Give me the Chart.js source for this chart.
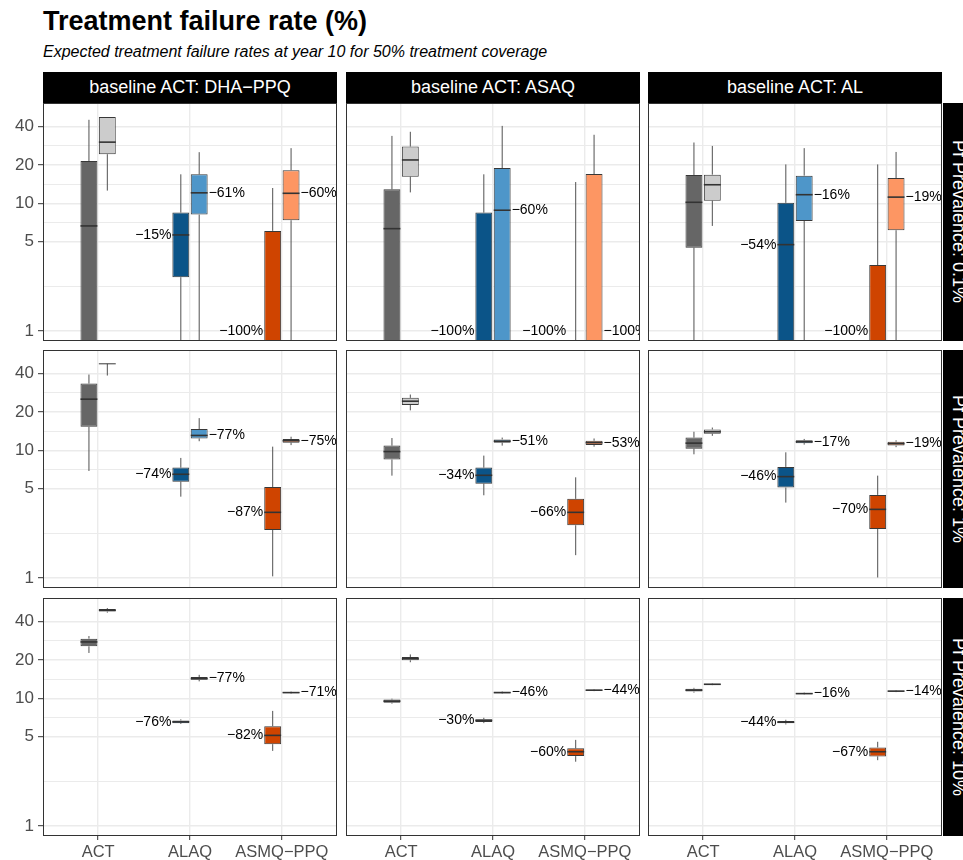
<!DOCTYPE html>
<html>
<head>
<meta charset="utf-8">
<title>Treatment failure rate (%)</title>
<script src="https://cdn.jsdelivr.net/npm/chart.js@4/dist/chart.umd.min.js"></script>
<style>
  html, body { margin: 0; padding: 0; background: #fff; }
  body {
    width: 963px; height: 860px; overflow: hidden; position: relative;
    font-family: 'Liberation Sans', Arial, Helvetica, sans-serif;
  }
  .title {
    position: absolute; left: 43px; top: 8px;
    font-size: 27px; line-height: 27px; font-weight: bold; color: #000; white-space: nowrap;
  }
  .subtitle {
    position: absolute; left: 43px; top: 44px;
    font-size: 16px; line-height: 16px; font-style: italic; color: #000; white-space: nowrap;
  }
  .strip-top {
    position: absolute; top: 72px; width: 294px; height: 31px;
    background: #000; color: #fff; font-size: 18px;
    display: flex; align-items: center; justify-content: center; white-space: nowrap;
  }
  .strip-right {
    position: absolute; left: 943px; width: 31px; height: 238px;
    background: #000; color: #fff; font-size: 18px;
    writing-mode: vertical-rl;
    display: flex; align-items: center; justify-content: center; white-space: nowrap;
  }
  canvas { position: absolute; }
</style>
</head>
<body>
<div class="title">Treatment failure rate (%)</div>
<div class="subtitle">Expected treatment failure rates at year 10 for 50% treatment coverage</div>
<script>
// ---- categories and facet levels ----
const categories = ['ACT', 'ALAQ', 'ASMQ−PPQ'];
const baselineActs = ['DHA−PPQ', 'ASAQ', 'AL'];
const prevalenceLevels = ['0.1%', '1%', '10%'];
const yTickValues = [1, 5, 10, 20, 40];
const yLimits = [0.835, 61.2];

// ---- box summaries: [lower whisker, Q1, median, Q3, upper whisker] ----
// one entry per baseline ACT (DHA−PPQ, ASAQ, AL), each with one box per category.
// null marks a statistic that lies above the top of the axis.
const armA_prev01 = [
  [[0.3, 0.5, 6.66, 21.5, 45.2], [0.3, 2.64, 5.66, 8.47, 16.9], [0, 0, 0, 6.09, 13.2]],
  [[0.3, 0.5, 6.34, 12.9, 33.8], [0, 0, 0, 8.47, 16.9], [0, 0, 0, 0.6, 14.7]],
  [[0.3, 4.5, 10.2, 16.7, 30.0], [0.3, 0.5, 4.75, 10.1, 20.2], [0, 0, 0, 3.29, 20.2]]
];
const armB_prev01 = [
  [[12.6, 24.3, 30.2, 47.5, 47.5], [0.3, 8.17, 12.1, 16.9, 25.2], [0.3, 7.38, 12.0, 18.2, 27.1]],
  [[12.2, 16.2, 21.9, 27.9, 36.4], [0.3, 0.5, 8.84, 18.9, 40.5], [0, 0, 0, 17.0, 34.5]],
  [[6.66, 10.5, 14.0, 16.8, 28.2], [0.3, 7.29, 11.7, 16.5, 27.1], [0.3, 6.16, 11.2, 15.8, 25.3]]
];
const armA_prev1 = [
  [[6.9, 15.3, 25.2, 33.4, 39.3], [4.34, 5.69, 6.5, 7.33, 8.73], [1.03, 2.38, 3.27, 5.17, 10.7]],
  [[6.34, 8.48, 9.79, 10.9, 12.5], [4.45, 5.49, 6.38, 7.33, 9.1], [1.51, 2.59, 3.27, 4.17, 6.15]],
  [[9.32, 10.3, 11.4, 12.6, 14.0], [3.9, 5.11, 6.23, 7.42, 9.66], [1.01, 2.42, 3.45, 4.48, 6.34]]
];
const armB_prev1 = [
  [[38.6, 47.7, null, null, null], [11.8, 12.4, 13.1, 14.7, 17.9], [11.0, 11.5, 11.9, 12.3, 12.8]],
  [[20.6, 22.7, 24.3, 25.8, 27.4], [10.9, 11.5, 11.8, 12.2, 12.6], [10.7, 11.0, 11.5, 11.9, 12.4]],
  [[13.0, 13.5, 14.0, 14.6, 15.1], [11.1, 11.4, 11.7, 12.0, 12.3], [10.6, 10.9, 11.3, 11.7, 12.0]]
];
const armA_prev10 = [
  [[22.7, 25.6, 27.7, 29.4, 30.8], [6.3, 6.4, 6.55, 6.72, 6.85], [3.88, 4.38, 5.13, 6.06, 7.98]],
  [[9.1, 9.25, 9.51, 9.8, 9.95], [6.4, 6.52, 6.72, 6.87, 7.05], [3.19, 3.53, 3.82, 4.06, 4.73]],
  [[11.1, 11.3, 11.6, 11.9, 12.1], [6.25, 6.38, 6.51, 6.66, 6.8], [3.28, 3.51, 3.82, 4.13, 4.57]]
];
const armB_prev10 = [
  [[47.0, 47.9, 49.0, 50.1, 51.0], [13.6, 14.0, 14.3, 14.7, 15.3], [10.9, 11.0, 11.1, 11.2, 11.3]],
  [[19.2, 19.9, 20.5, 21.1, 22.1], [10.85, 10.95, 11.1, 11.25, 11.35], [11.4, 11.5, 11.6, 11.7, 11.8]],
  [[12.7, 12.8, 12.9, 13.0, 13.1], [10.75, 10.85, 10.9, 11.0, 11.1], [11.2, 11.3, 11.4, 11.5, 11.6]]
];

// ---- relative change printed beside each median ----
const changeA_prev01 = [[null, '−15%', '−100%'], [null, '−100%', '−100%'], [null, '−54%', '−100%']];
const changeB_prev01 = [[null, '−61%', '−60%'], [null, '−60%', '−100%'], [null, '−16%', '−19%']];
const changeA_prev1 = [[null, '−74%', '−87%'], [null, '−34%', '−66%'], [null, '−46%', '−70%']];
const changeB_prev1 = [[null, '−77%', '−75%'], [null, '−51%', '−53%'], [null, '−17%', '−19%']];
const changeA_prev10 = [[null, '−76%', '−82%'], [null, '−30%', '−60%'], [null, '−44%', '−67%']];
const changeB_prev10 = [[null, '−77%', '−71%'], [null, '−46%', '−44%'], [null, '−16%', '−14%']];

const armA = [armA_prev01, armA_prev1, armA_prev10];
const armB = [armB_prev01, armB_prev1, armB_prev10];
const changeA = [changeA_prev01, changeA_prev1, changeA_prev10];
const changeB = [changeB_prev01, changeB_prev1, changeB_prev10];

// ---- styling ----
const FONT = "'Liberation Sans', Arial, Helvetica, sans-serif";
const fillA = ['#666666', '#0b5488', '#cf4400'];
const fillB = ['#cccccc', '#4e96c9', '#fd9663'];
const OUTLINE = '#383838';
const WHISKER = '#505050';
const GRID = '#ebebeb';
const AXIS_TEXT = '#4d4d4d';
const LOG_FLOOR = 0.01; // zero-valued bar ends sit below the visible log range

// log-midpoints between breaks give the minor grid
const yMinorValues = yTickValues.slice(1).map((v, i) => Math.sqrt(v * yTickValues[i]));
const yGridValues = yTickValues.concat(yMinorValues).sort((a, b) => a - b);
const isMajor = v => yTickValues.some(t => Math.abs(t - v) < 1e-9);

// ---- facet geometry ----
const PANEL_W = 294, PANEL_H = 238;
const colLeft = [43, 346, 648];
const rowTop = [103, 350, 598];
const AXIS_W = 43, AXIS_H = 24;

// whiskers, medians, hinge-only boxes, change labels and the panel frame
const boxplotParts = {
  id: 'boxplotParts',
  beforeDatasetsDraw(chart) {
    const { ctx, chartArea: a, scales: { y } } = chart;
    ctx.save();
    ctx.beginPath(); ctx.rect(a.left, a.top, a.width, a.height); ctx.clip();
    ctx.strokeStyle = WHISKER; ctx.lineWidth = 1;
    chart.data.datasets.forEach((ds, d) => {
      const meta = chart.getDatasetMeta(d);
      ds.stats.forEach((s, i) => {
        const [lo, q1, , q3, hi] = s;
        const x = meta.data[i].x;
        ctx.beginPath();
        if (q3 !== null && hi !== null) {
          ctx.moveTo(x, y.getPixelForValue(q3)); ctx.lineTo(x, y.getPixelForValue(hi));
        }
        ctx.moveTo(x, y.getPixelForValue(q1)); ctx.lineTo(x, y.getPixelForValue(lo));
        ctx.stroke();
      });
    });
    ctx.restore();
  },
  afterDatasetsDraw(chart) {
    const { ctx, chartArea: a, scales: { y } } = chart;
    ctx.save();
    ctx.beginPath(); ctx.rect(a.left, a.top, a.width, a.height); ctx.clip();
    chart.data.datasets.forEach((ds, d) => {
      const meta = chart.getDatasetMeta(d);
      ds.stats.forEach((s, i) => {
        const [, q1, med, q3] = s;
        const el = meta.data[i];
        const half = el.width / 2;
        if (q3 === null) {
          // box runs off the top of the axis: only its lower hinge shows
          const py = y.getPixelForValue(q1);
          ctx.strokeStyle = OUTLINE; ctx.lineWidth = 1;
          ctx.beginPath(); ctx.moveTo(el.x - half, py); ctx.lineTo(el.x + half, py); ctx.stroke();
        }
        if (med !== null && med > 0) {
          const py = y.getPixelForValue(med);
          ctx.strokeStyle = '#333333'; ctx.lineWidth = 1.6;
          ctx.beginPath(); ctx.moveTo(el.x - half, py); ctx.lineTo(el.x + half, py); ctx.stroke();
        }
        const note = ds.notes[i];
        if (note) {
          const py = y.getPixelForValue(Math.max(med, 1));
          ctx.fillStyle = '#000';
          ctx.font = '14px ' + FONT;
          ctx.textBaseline = 'middle';
          if (d === 0) { ctx.textAlign = 'right'; ctx.fillText(note, el.x - half - 1, py); }
          else { ctx.textAlign = 'left'; ctx.fillText(note, el.x + half + 1, py); }
        }
      });
    });
    ctx.restore();
  },
  afterDraw(chart) {
    const { ctx, chartArea: a } = chart;
    ctx.save();
    ctx.strokeStyle = '#333333'; ctx.lineWidth = 1;
    ctx.strokeRect(a.left + 0.5, a.top + 0.5, a.width - 1, a.height - 1);
    ctx.restore();
  }
};

function boxDataset(stats, notes, fills) {
  return {
    data: stats.map((s, i) => ({
      x: i + 1,
      y: s[3] === null ? null : [Math.max(s[1], LOG_FLOOR), Math.max(s[3], LOG_FLOOR)]
    })),
    stats: stats,
    notes: notes,
    backgroundColor: fills,
    borderColor: OUTLINE,
    borderWidth: 1,
    borderSkipped: false,
    categoryPercentage: 0.4,
    barPercentage: 0.92
  };
}

function buildPanel(r, c) {
  const extraL = c === 0 ? AXIS_W : 0;
  const extraB = r === 2 ? AXIS_H : 0;
  const w = PANEL_W + extraL, h = PANEL_H + extraB;
  const canvas = document.createElement('canvas');
  canvas.width = w; canvas.height = h;
  canvas.style.width = w + 'px'; canvas.style.height = h + 'px';
  canvas.style.left = (colLeft[c] - extraL) + 'px';
  canvas.style.top = rowTop[r] + 'px';
  document.body.appendChild(canvas);

  new Chart(canvas, {
    type: 'bar',
    data: {
      datasets: [
        boxDataset(armA[r][c], changeA[r][c], fillA),
        boxDataset(armB[r][c], changeB[r][c], fillB)
      ]
    },
    options: {
      responsive: false,
      animation: false,
      devicePixelRatio: 1,
      layout: { padding: 0 },
      plugins: { legend: { display: false }, tooltip: { enabled: false } },
      scales: {
        x: {
          type: 'linear', min: 0.4, max: 3.6, bounds: 'data', offset: false,
          afterBuildTicks: s => { s.ticks = categories.map((_, i) => ({ value: i + 1 })); },
          afterFit: s => { s.height = extraB; s.paddingLeft = 0; s.paddingRight = 0; },
          ticks: {
            display: r === 2, autoSkip: false, maxRotation: 0, padding: 3,
            color: AXIS_TEXT, font: { family: FONT, size: 16.5 },
            callback: v => categories[Math.round(v) - 1]
          },
          grid: {
            offset: false, color: GRID, lineWidth: 1.4,
            drawTicks: r === 2, tickLength: 4, tickColor: '#333333', tickWidth: 1
          },
          border: { display: false }
        },
        y: {
          type: 'logarithmic', min: yLimits[0], max: yLimits[1], bounds: 'data',
          afterBuildTicks: s => { s.ticks = yGridValues.map(v => ({ value: v })); },
          afterFit: s => { s.width = extraL; s.paddingTop = 0; s.paddingBottom = 0; },
          ticks: {
            display: c === 0, autoSkip: false, padding: 4,
            color: AXIS_TEXT, font: { family: FONT, size: 17 },
            callback: v => isMajor(v) ? String(v) : ''
          },
          grid: {
            color: GRID,
            lineWidth: ctx => (ctx.tick && isMajor(ctx.tick.value)) ? 1.4 : 1,
            drawTicks: c === 0, tickLength: 5, tickWidth: 1,
            tickColor: ctx => (ctx.tick && isMajor(ctx.tick.value)) ? '#333333' : 'rgba(0,0,0,0)'
          },
          border: { display: false }
        }
      }
    },
    plugins: [boxplotParts]
  });
}

// facet strips
baselineActs.forEach((b, c) => {
  const s = document.createElement('div');
  s.className = 'strip-top';
  s.style.left = colLeft[c] + 'px';
  s.innerHTML = '<span>baseline ACT: ' + b + '</span>';
  document.body.appendChild(s);
});
prevalenceLevels.forEach((p, r) => {
  const s = document.createElement('div');
  s.className = 'strip-right';
  s.style.top = rowTop[r] + 'px';
  s.innerHTML = '<span>Pf Prevalence: ' + p + '</span>';
  document.body.appendChild(s);
});

for (let r = 0; r < 3; r++) {
  for (let c = 0; c < 3; c++) buildPanel(r, c);
}
</script>
</body>
</html>
